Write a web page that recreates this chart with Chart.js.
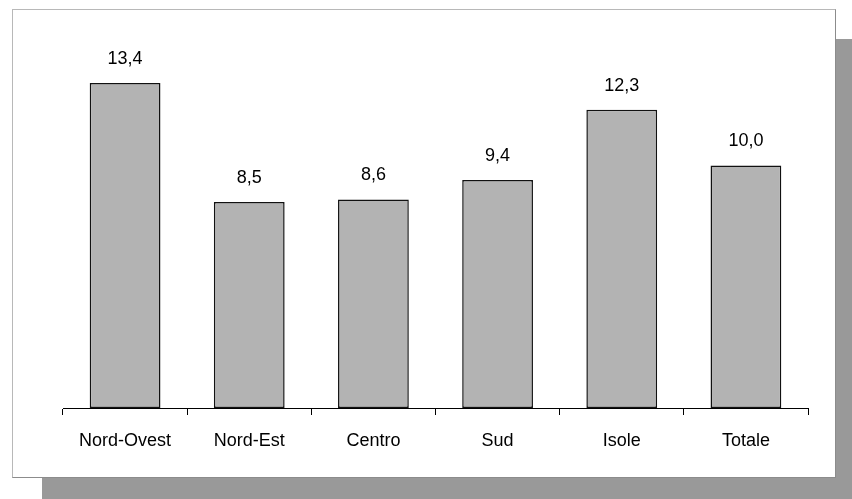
<!DOCTYPE html>
<html>
<head>
<meta charset="utf-8">
<script src="https://cdn.jsdelivr.net/npm/chart.js@4"></script>
<style>
  html, body { margin: 0; padding: 0; background: #fff; overflow: hidden; }
  #stage { position: relative; width: 852px; height: 499px; }
  #shadow { position: absolute; left: 42px; top: 39px; width: 820px; height: 470px; background: #999999; }
  #panel { position: absolute; left: 12px; top: 9px; width: 822px; height: 467px; background: #fff;
           border: 1px solid #b8b8b8; border-right-color: #8c8c8c; border-bottom-color: #8c8c8c; }
  #chart { position: absolute; left: 0; top: 0; }
</style>
</head>
<body>
<div id="stage">
  <div id="shadow"></div>
  <div id="panel"></div>
  <canvas id="chart" width="852" height="499"></canvas>
</div>
<script>
// Ripartizioni territoriali e valori (%)
const categories = ['Nord-Ovest', 'Nord-Est', 'Centro', 'Sud', 'Isole', 'Totale'];
const values = [13.4, 8.5, 8.6, 9.4, 12.3, 10.0];

const FONT = 'Liberation Sans, Arial, sans-serif';

// Etichette con il valore sopra ogni barra (virgola decimale)
const valueLabels = {
  id: 'valueLabels',
  afterDatasetsDraw(chart) {
    const ctx = chart.ctx;
    const meta = chart.getDatasetMeta(0);
    ctx.save();
    ctx.font = '18px ' + FONT;
    ctx.fillStyle = '#000';
    ctx.textAlign = 'center';
    ctx.textBaseline = 'middle';
    meta.data.forEach((bar, i) => {
      const txt = values[i].toFixed(1).replace('.', ',');
      ctx.fillText(txt, bar.x, bar.y - 24);
    });
    ctx.restore();
  }
};

new Chart(document.getElementById('chart'), {
  type: 'bar',
  data: {
    labels: categories,
    datasets: [{
      data: values,
      backgroundColor: '#b3b3b3',
      borderColor: '#111',
      borderWidth: 1.5,
      borderSkipped: false,
      barPercentage: 0.57,
      categoryPercentage: 1.0
    }]
  },
  options: {
    responsive: false,
    animation: false,
    devicePixelRatio: 1,
    layout: { padding: { left: 63, right: 44, top: 20, bottom: 0 } },
    plugins: { legend: { display: false }, tooltip: { enabled: false } },
    scales: {
      x: {
        grid: { offset: true, drawOnChartArea: false, drawTicks: true, tickLength: 7, color: '#000', lineWidth: 1 },
        border: { display: true, color: '#000', width: 1 },
        ticks: { color: '#000', font: { family: FONT, size: 18 }, padding: 15, maxRotation: 0, autoSkip: false },
        afterFit(scale) { scale.height = 91; }
      },
      y: {
        display: false,
        min: 0,
        max: 16
      }
    }
  },
  plugins: [valueLabels]
});
</script>
</body>
</html>
